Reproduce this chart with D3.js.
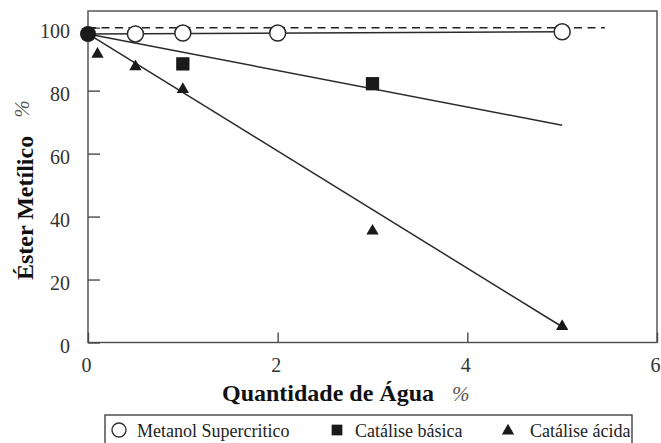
<!DOCTYPE html>
<html>
<head>
<meta charset="utf-8">
<script src="https://cdn.jsdelivr.net/npm/d3@7"></script>
<style>
  body { margin: 0; background: #fff; }
  svg { display: block; }
  svg text { font-family: "Liberation Serif", "Times New Roman", serif; }
</style>
</head>
<body>
<script>
// Axis ticks
const xTicks = [0, 2, 4, 6];
const yTicks = [0, 20, 40, 60, 80, 100];

// Measured points (water content %, methyl ester %)
const originX = [0];
const originY = [98];
const superX = [0.5, 1, 2, 5];
const superY = [98, 98.3, 98.3, 98.7];
const basicX = [1, 3];
const basicY = [88.5, 82.2];
const acidX = [0.1, 0.5, 1, 3, 5];
const acidY = [91.6, 87.6, 80.4, 35.4, 5.1];

// Trend lines (start and end)
const superFitX = [0, 5], superFitY = [98, 98.7];
const basicFitX = [0, 5], basicFitY = [98, 69];
const acidFitX = [0, 5], acidFitY = [98, 5];
// Dashed 100 % reference
const refX = [0, 5.45], refY = [100, 100];

const legendLabels = ["Metanol Supercritico", "Catálise básica", "Catálise ácida"];
const xTitle = "Quantidade de Água";
const yTitle = "Éster Metílico";
const unitLabel = "%";

const W = 661, H = 443;
const serif = "Liberation Serif, Times New Roman, serif";
const ink = "#1a1a1a";

const svg = d3.select("body").append("svg")
  .attr("width", W).attr("height", H);

const x = d3.scaleLinear().domain([0, 6]).range([88, 657]);
const y = d3.scaleLinear().domain([0, 105.3]).range([342.5, 11]);

// Plot frame
svg.append("rect")
  .attr("x", x(0)).attr("y", y(105.3))
  .attr("width", x(6) - x(0)).attr("height", y(0) - y(105.3))
  .attr("fill", "none").attr("stroke", "#4a4a4a").attr("stroke-width", 1.4);

// Axes with inward ticks
const xAxis = svg.append("g")
  .attr("transform", `translate(0,${y(0)})`)
  .call(d3.axisBottom(x).tickValues(xTicks).tickSize(-10).tickPadding(15).tickFormat(d3.format("d")));
const yAxis = svg.append("g")
  .attr("transform", `translate(${x(0)},0)`)
  .call(d3.axisLeft(y).tickValues(yTicks).tickSize(-12).tickPadding(18).tickFormat(d3.format("d")));

[xAxis, yAxis].forEach(g => {
  g.attr("font-family", serif).attr("font-size", 20);
  g.select(".domain").remove();
  g.selectAll(".tick line").attr("stroke", "#4a4a4a").attr("stroke-width", 1.4);
  g.selectAll(".tick text")
    .attr("fill", "#333")
    .attr("font-family", serif)
    .attr("font-size", 20);
});
xAxis.selectAll(".tick text").attr("dx", -2);
yAxis.selectAll(".tick text").attr("dy", "0.5em");

// Dashed reference line
const line = d3.line().x(d => x(d[0])).y(d => y(d[1]));
svg.append("path")
  .attr("d", line(d3.zip(refX, refY)))
  .attr("fill", "none").attr("stroke", "#222").attr("stroke-width", 1.4)
  .attr("stroke-dasharray", "8,5.5");

// Trend lines
[[superFitX, superFitY], [basicFitX, basicFitY], [acidFitX, acidFitY]].forEach(([fx, fy]) => {
  svg.append("path")
    .attr("d", line(d3.zip(fx, fy)))
    .attr("fill", "none").attr("stroke", "#2a2a2a").attr("stroke-width", 1.5);
});

// Markers
const tri = d3.symbol().type(d3.symbolTriangle).size(66);
const sq = d3.symbol().type(d3.symbolSquare).size(177);

svg.append("g").selectAll("path")
  .data(d3.zip(acidX, acidY)).join("path")
  .attr("d", tri)
  .attr("transform", d => `translate(${x(d[0])},${y(d[1])})`)
  .attr("fill", ink);

svg.append("g").selectAll("path")
  .data(d3.zip(basicX, basicY)).join("path")
  .attr("d", sq)
  .attr("transform", d => `translate(${x(d[0])},${y(d[1])})`)
  .attr("fill", ink);

svg.append("g").selectAll("circle")
  .data(d3.zip(superX, superY)).join("circle")
  .attr("cx", d => x(d[0])).attr("cy", d => y(d[1])).attr("r", 8)
  .attr("fill", "#fff").attr("stroke", "#2a2a2a").attr("stroke-width", 1.5);

svg.append("g").selectAll("circle")
  .data(d3.zip(originX, originY)).join("circle")
  .attr("cx", d => x(d[0])).attr("cy", d => y(d[1])).attr("r", 8)
  .attr("fill", ink);

// Axis titles
const xt = svg.append("text")
  .attr("x", 222).attr("y", 401)
  .attr("fill", "#111")
  .attr("font-family", serif)
  .attr("font-size", 24).attr("font-weight", "bold")
  .text(xTitle);
xt.append("tspan")
  .attr("dx", 18)
  .attr("fill", "#555")
  .attr("font-weight", "normal").attr("font-style", "italic").attr("font-size", 21)
  .text(unitLabel);

const yt = svg.append("text")
  .attr("transform", "translate(33,280) rotate(-90)")
  .attr("fill", "#111")
  .attr("font-family", serif)
  .attr("font-size", 24).attr("font-weight", "bold")
  .text(yTitle);
yt.append("tspan")
  .attr("dx", 18).attr("dy", -4)
  .attr("fill", "#555")
  .attr("font-weight", "normal").attr("font-style", "italic").attr("font-size", 21)
  .text(unitLabel);

// Legend
const leg = svg.append("g");
leg.append("rect")
  .attr("x", 105).attr("y", 415).attr("width", 527).attr("height", 45)
  .attr("fill", "#fff").attr("stroke", "#333").attr("stroke-width", 1.3);

const legY = 430;
const legItems = [
  { mx: 119, tx: 137 },
  { mx: 337, tx: 355 },
  { mx: 508, tx: 530 }
];
leg.append("circle")
  .attr("cx", legItems[0].mx).attr("cy", legY).attr("r", 7)
  .attr("fill", "#fff").attr("stroke", "#333").attr("stroke-width", 1.4);
leg.append("path")
  .attr("d", d3.symbol().type(d3.symbolSquare).size(115)())
  .attr("transform", `translate(${legItems[1].mx},${legY})`)
  .attr("fill", ink);
leg.append("path")
  .attr("d", tri())
  .attr("transform", `translate(${legItems[2].mx},${legY + 1})`)
  .attr("fill", ink);

leg.selectAll("text")
  .data(legendLabels).join("text")
  .attr("x", (d, i) => legItems[i].tx).attr("y", 437)
  .attr("fill", "#222")
  .attr("font-family", serif)
  .attr("font-size", 18)
  .text(d => d);
</script>
</body>
</html>
